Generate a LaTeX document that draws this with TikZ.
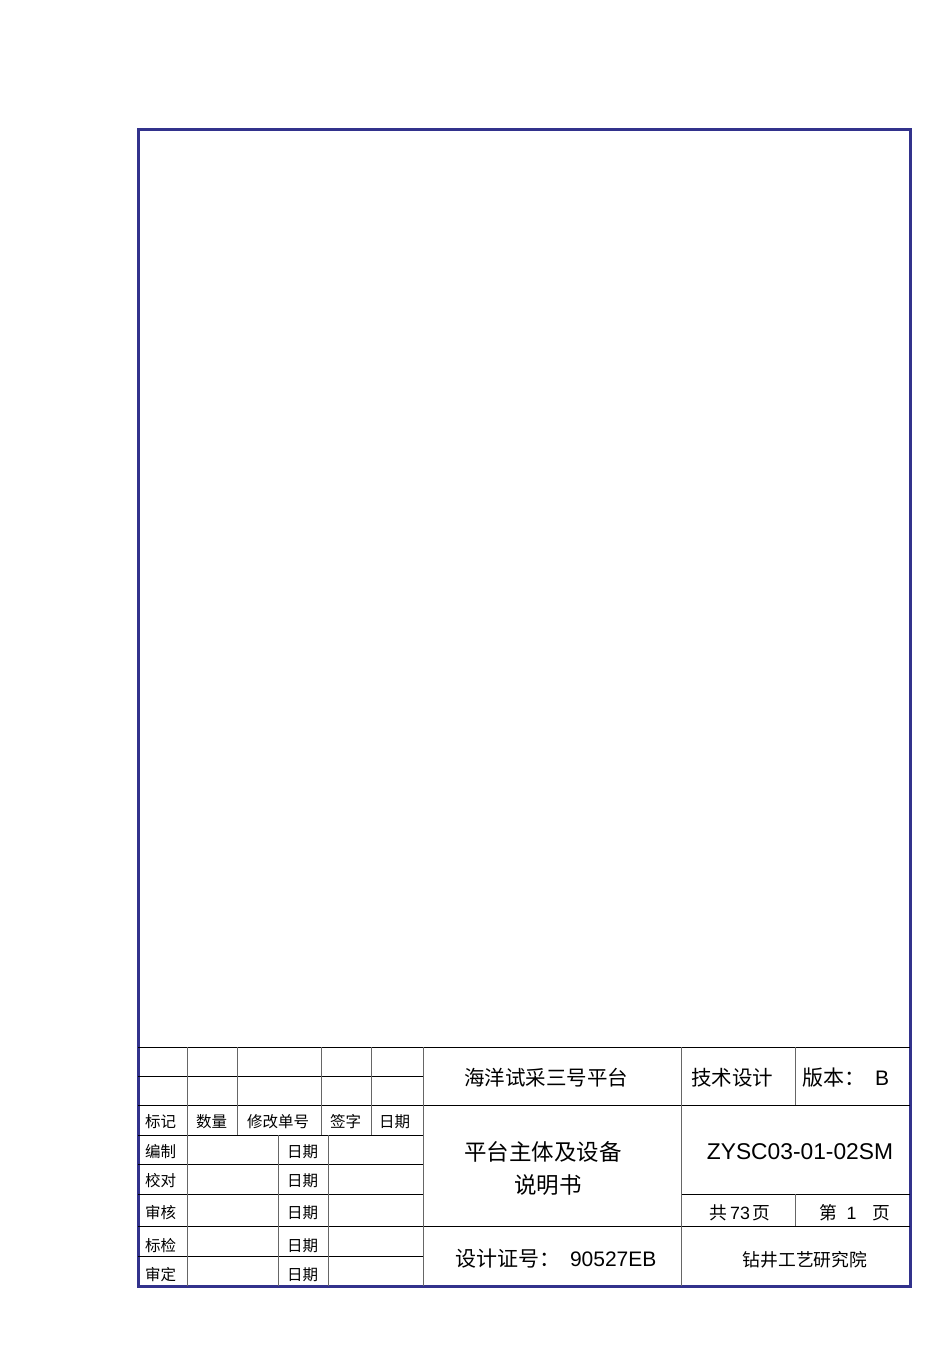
\documentclass[tikz,border=0pt]{standalone}
\usepackage{fontspec}
\setmainfont{Liberation Sans}
\newfontfamily\cjk{Noto Sans CJK SC}
\definecolor{borderblue}{RGB}{50,50,140}

\begin{document}
\begin{tikzpicture}[
			x=1pt, y=-1pt,
			frame/.style = {draw=borderblue, line width=3pt},
			hline/.style = {draw=black, line width=0.9pt},
			vline/.style = {draw=black!60, line width=1pt},
			small/.style = {anchor=west, inner sep=0pt, font=\cjk\fontsize{15.5}{15.5}\selectfont},
			big/.style = {inner sep=0pt, align=center, font=\cjk\fontsize{20.5}{33}\selectfont},
			mid/.style = {inner sep=0pt, font=\cjk\fontsize{17.8}{17.8}\selectfont},
			]
			\useasboundingbox (0,0) rectangle (950,1345);
			% outer frame
			\draw[frame] (138,129) rectangle (910,1286);
			% title block: horizontal lines
			\foreach \y in {1047,1105,1226}
				\draw[hline] (138,\y) -- (910,\y);
			\foreach \y in {1076,1135,1164,1194,1256}
				\draw[hline] (138,\y) -- (423,\y);
			\draw[hline] (681,1194) -- (910,1194);
			% title block: vertical lines
			\foreach \x in {187,423,681}
				\draw[vline] (\x,1047) -- (\x,1286);
			\foreach \x in {237,321,371}
				\draw[vline] (\x,1047) -- (\x,1135);
			\foreach \x in {278,328}
				\draw[vline] (\x,1135) -- (\x,1286);
			\draw[vline] (795,1047) -- (795,1105);
			\draw[vline] (795,1194) -- (795,1226);
			% revision header
			\node[small] (mark) at (145,1122) {标记};
			\node[small] (qty) at (196,1122) {数量};
			\node[small] (chg) at (247,1122) {修改单号};
			\node[small] (sign) at (330,1122) {签字};
			\node[small] (date) at (379,1122) {日期};
			% sign-off rows
			\foreach \lbl/\y [count=\i] in {编制/1152,校对/1181,审核/1213,标检/1246,审定/1275}{
				\node[small] (role\i) at (145,\y) {\lbl};
				\node[small] (rdate\i) at (287,\y) {日期};
			}
			% right part
			\node[big] (project) at (546,1078) {海洋试采三号平台};
			\node[big] (stage) at (732,1078) {技术设计};
			\node[big, font=\cjk\fontsize{21}{21}\selectfont] (version) at (846,1078) {版本：\ \ {\fontspec{Liberation Sans}B}};
			\node[big, font=\cjk\fontsize{22.5}{33}\selectfont] (title) at (543,1168) {平台主体及设备\\\hspace*{10pt}说明书};
			\node[inner sep=0pt, font=\fontsize{22.8}{22.8}\selectfont] (docno) at (800,1152) {ZYSC03-01-02SM};
			\node[mid] (total) at (740,1213) {共{\fontspec{Liberation Sans}\,73\,}页};
			\node[mid] (page) at (855,1213) {第\ {\fontspec{Liberation Sans}\ 1\ }\ \ \,页};
			\node[big, font=\cjk\fontsize{21}{21}\selectfont] (cert) at (556,1259) {设计证号：\ \ {\fontspec{Liberation Sans}90527EB}};
			\node[mid] (inst) at (805,1260) {钻井工艺研究院};
		\end{tikzpicture}
\end{document}
